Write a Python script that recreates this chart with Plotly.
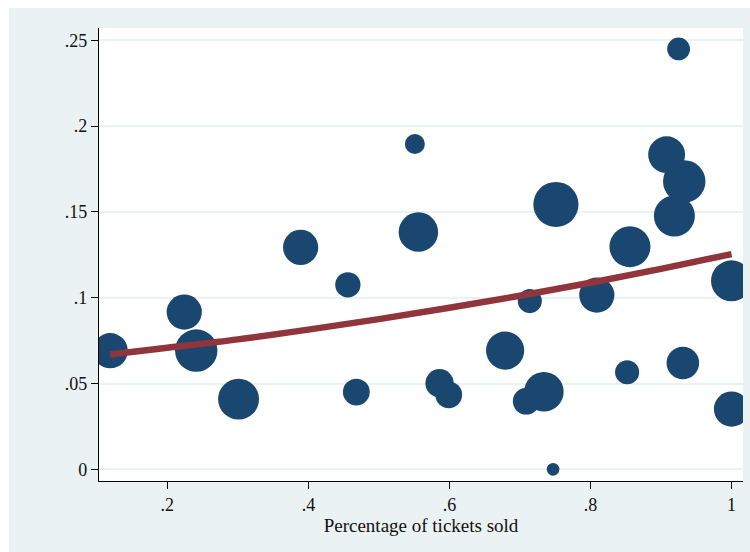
import plotly.graph_objects as go

# Observations: share of tickets sold vs. outcome, with analytic weights
pct_sold = [0.119, 0.224, 0.241, 0.301, 0.389, 0.456, 0.468, 0.551, 0.556,
            0.586, 0.599, 0.679, 0.714, 0.709, 0.734, 0.747, 0.751, 0.809,
            0.852, 0.856, 0.908, 0.919, 0.925, 0.933, 0.931, 1.0, 1.0]
outcome = [0.0691, 0.0916, 0.0692, 0.0409, 0.1293, 0.1075, 0.0450, 0.1895,
           0.1382, 0.0502, 0.0434, 0.0692, 0.0980, 0.0397, 0.0452, 0.0000,
           0.1543, 0.1015, 0.0566, 0.1297, 0.1833, 0.1476, 0.2449, 0.1677,
           0.0619, 0.1098, 0.0351]
weights = [62, 62, 90, 84, 62, 32, 36, 20, 78, 40, 36, 73, 29, 36, 78, 8,
           102, 62, 29, 84, 68, 84, 26, 90, 53, 84, 62]

# Fitted curve (predicted values across the range of tickets sold)
fit_x = [0.119, 0.2, 0.3, 0.4, 0.5, 0.6, 0.7, 0.8, 0.9, 1.0]
fit_y = [0.0669, 0.0708, 0.0757, 0.0814, 0.0875, 0.0941, 0.1011, 0.1087,
         0.1168, 0.1254]

x_ticks = [0.2, 0.4, 0.6, 0.8, 1.0]
x_tick_text = [".2", ".4", ".6", ".8", "1"]
y_ticks = [0, 0.05, 0.1, 0.15, 0.2, 0.25]
y_tick_text = ["0", ".05", ".1", ".15", ".2", ".25"]
x_title = "Percentage of tickets sold"

NAVY = "#1A476F"
MAROON = "#90353B"
BG = "#EAF2F3"
FONT = "Liberation Serif"

W, H = 750, 552
ML, MR, MT, MB = 99, 7, 28, 71
PW, PH = W - ML - MR, H - MT - MB

fig = go.Figure()
fig.add_trace(go.Scatter(
    x=pct_sold, y=outcome, mode="markers",
    marker=dict(color=NAVY, size=weights, sizemode="area", sizeref=0.1,
                opacity=1, line=dict(width=0)),
    hoverinfo="skip", showlegend=False,
))
fig.add_trace(go.Scatter(
    x=fit_x, y=fit_y, mode="lines",
    line=dict(color=MAROON, width=6.5, shape="spline"),
    hoverinfo="skip", showlegend=False,
))

# white page margin on the left and top of the graph region
fig.add_shape(type="rect", xref="paper", yref="paper", layer="below",
              x0=-ML / PW, x1=(9 - ML) / PW, y0=-MB / PH, y1=(PH + MT) / PH,
              fillcolor="white", line=dict(width=0))
fig.add_shape(type="rect", xref="paper", yref="paper", layer="below",
              x0=-ML / PW, x1=(W - ML) / PW, y0=(PH + MT - 8) / PH,
              y1=(PH + MT) / PH, fillcolor="white", line=dict(width=0))

fig.update_layout(
    width=W, height=H,
    margin=dict(l=ML, r=MR, t=MT, b=MB, pad=0),
    paper_bgcolor=BG, plot_bgcolor="white",
    font=dict(family=FONT, size=18, color="#111111"),
    xaxis=dict(
        range=[0.1031, 1.0163], tickvals=x_ticks, ticktext=x_tick_text,
        ticks="outside", ticklen=7, tickwidth=1, tickcolor="black",
        showline=True, linecolor="black", linewidth=1.2,
        showgrid=False, zeroline=False, automargin=False,
        title=dict(text=x_title, standoff=0,
                   font=dict(family=FONT, size=19)),
        tickfont=dict(family=FONT, size=18),
    ),
    yaxis=dict(
        range=[-0.0068, 0.2571], tickvals=y_ticks, ticktext=y_tick_text,
        ticks="outside", ticklen=7, tickwidth=1, tickcolor="black",
        showline=True, linecolor="black", linewidth=1.2,
        showgrid=True, gridcolor=BG, gridwidth=1.5,
        zeroline=False, automargin=False,
        tickfont=dict(family=FONT, size=18),
    ),
)

fig.write_html("out.html")
